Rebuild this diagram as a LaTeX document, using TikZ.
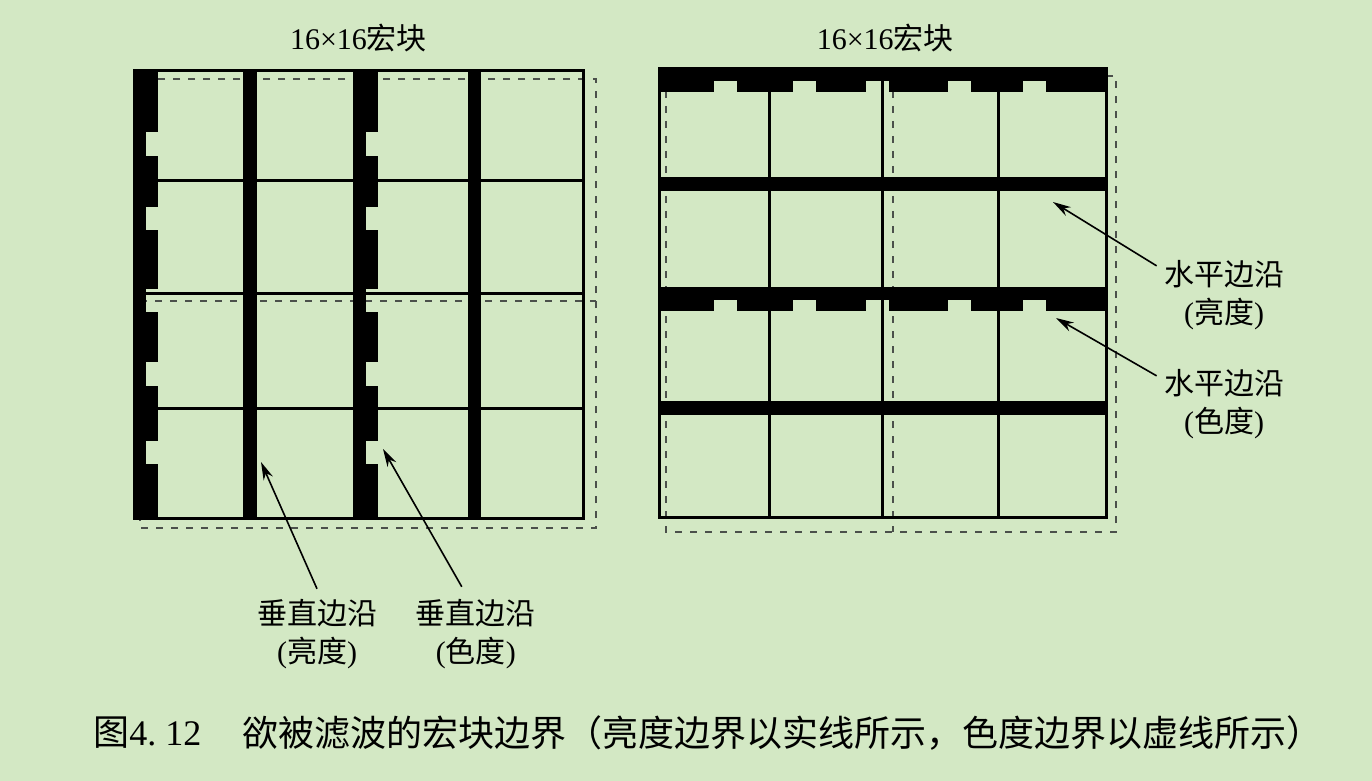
\documentclass[tikz,border=0pt]{standalone}
\usepackage{fontspec}
\setmainfont{Liberation Serif}
\newfontfamily\cjk{Noto Sans CJK SC}
\usepackage{tikz}
\usetikzlibrary{positioning,arrows.meta}
\definecolor{bgcol}{RGB}{211,232,196}
\definecolor{dashcol}{RGB}{75,80,75}
\tikzstyle{line} = [draw,line width=1.5pt]
\tikzstyle{dashline} = [draw=dashcol,line width=0.8pt,dash pattern=on 3.5pt off 4pt]
\tikzstyle{arrowline} = [draw,line width=0.8pt,-{Stealth[length=9pt,width=5pt]}]
\tikzstyle{title} = [inner sep=0pt,font=\fontsize{15pt}{18pt}\selectfont]
\tikzstyle{note} = [align=center,inner sep=0pt,font=\fontsize{15pt}{19pt}\selectfont]
\tikzstyle{capt} = [inner sep=0pt,font=\fontsize{18pt}{21pt}\selectfont]
% notched luma/chroma edges
\newcommand{\vedge}[1]{%
  \fill (#1,70.5) rectangle (#1+13,518);
  \foreach \a/\b in {70.5/132,156/207,230/289,312/362,386/441,464/518}
    \fill (#1,\a) rectangle (#1+24.2,\b);
}
\newcommand{\hedge}[1]{%
  \fill (659,#1) rectangle (1107,#1+12.5);
  \foreach \a/\b in {659/714,737/793,816/866,889/948,971/1023,1046/1107}
    \fill (\a,#1) rectangle (\b,#1+23.5);
}
\begin{document}
\begin{tikzpicture}[x=0.5pt,y=-0.5pt,node distance=20pt]
\fill[bgcol] (0,0) rectangle (1372,781);
\useasboundingbox (0,0) rectangle (1372,781);

% left macroblock: vertical edges
\path[dashline] (140,79) rectangle (596,528);
\path[dashline] (140,301) -- (596,301);
\path[line] (134,70.5) rectangle (583,518);
\foreach \y in {181,293.5,408}
  \path[line] (134,\y) -- (583,\y);
\vedge{133.3}
\vedge{353.3}
\fill (242.7,70.5) rectangle (257.3,518);
\fill (467.7,70.5) rectangle (481,518);

% right macroblock: horizontal edges
\path[dashline] (666,76) rectangle (1116,532);
\path[dashline] (893,76) -- (893,532);
\path[line] (659,68.5) rectangle (1106,517.5);
\foreach \x in {769,882,998}
  \path[line] (\x,68.5) -- (\x,517.5);
\hedge{68.3}
\hedge{287.3}
\fill (659,176.7) rectangle (1108,190.7);
\fill (659,400.7) rectangle (1108,415);

\node[title] (ltitle) at (358.5,38) {16×16{\cjk 宏块}};
\node[title] (rtitle) [right=194.5pt of ltitle] {16×16{\cjk 宏块}};

\coordinate (tipA) at (261,462);
\coordinate (tipB) at (383,449);
\coordinate (tipC) at (1053,202);
\coordinate (tipD) at (1056,318);

\node[note] (llab1) at (317,634) {{\cjk 垂直边沿}\\({\cjk 亮度})};
\node[note] (llab2) [right=19pt of llab1] {{\cjk 垂直边沿}\\({\cjk 色度})};
\node[note] (rlab1) at (1224,295) {{\cjk 水平边沿}\\({\cjk 亮度})};
\node[note] (rlab2) at (1224,404) {{\cjk 水平边沿}\\({\cjk 色度})};

\path[arrowline] ([yshift=5pt]llab1.north) -- (tipA);
\path[arrowline] ([xshift=-7pt,yshift=6pt]llab2.north) -- (tipB);
\path[arrowline] ([xshift=-3.5pt,yshift=-3pt]rlab1.north west) -- (tipC);
\path[arrowline] ([xshift=-3.5pt,yshift=-3.5pt]rlab2.north west) -- (tipD);

\node[capt,anchor=west] (capnum) at (93,733) {{\cjk 图}4.\ 12};
\node[capt] (captext) [right=20pt of capnum] {\cjk 欲被滤波的宏块边界（亮度边界以实线所示，色度边界以虚线所示）};
\end{tikzpicture}
\end{document}
